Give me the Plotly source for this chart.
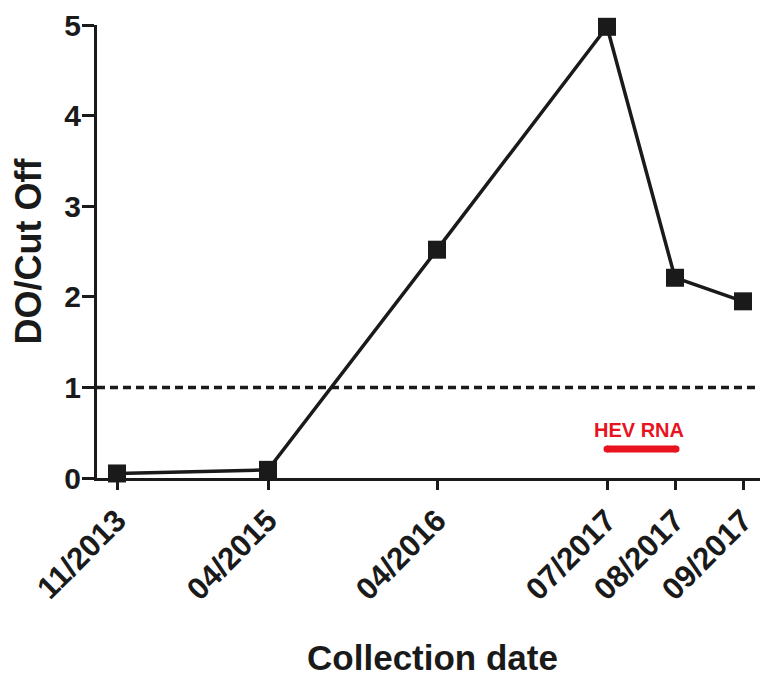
import plotly.graph_objects as go

# Data
dates = ["11/2013", "04/2015", "04/2016", "07/2017", "08/2017", "09/2017"]
x_pos = [0.0, 1.51, 3.20, 4.90, 5.58, 6.26]  # category positions along the axis
do_cutoff = [0.05, 0.09, 2.52, 4.98, 2.21, 1.95]
cutoff_value = 1.0
hev_rna_x = [4.90, 5.59]
hev_rna_y = [0.32, 0.32]
hev_label = "HEV RNA"
hev_label_pos = (5.22, 0.53)

FONT = "Liberation Sans, Arial, Helvetica, sans-serif"
INK = "#1a1a1a"
RED = "#e8131f"

fig = go.Figure()

fig.add_trace(go.Scatter(
    x=x_pos, y=do_cutoff, mode="lines+markers",
    line=dict(color=INK, width=3.5),
    marker=dict(symbol="square", size=18, color=INK),
    cliponaxis=False, showlegend=False, hoverinfo="skip",
))

fig.add_trace(go.Scatter(
    x=hev_rna_x, y=hev_rna_y, mode="lines+markers",
    line=dict(color=RED, width=7),
    marker=dict(symbol="circle", size=7, color=RED),
    showlegend=False, hoverinfo="skip",
))

fig.add_shape(type="line", xref="paper", yref="y", x0=0, x1=1,
              y0=cutoff_value, y1=cutoff_value,
              line=dict(color=INK, width=3.5, dash="8px,5px"))

fig.add_annotation(x=hev_label_pos[0], y=hev_label_pos[1], text=hev_label,
                   showarrow=False,
                   font=dict(family=FONT, size=20, color=RED, weight="bold"))

fig.update_layout(
    width=760, height=669,
    margin=dict(l=89, r=0, t=17, b=199),
    paper_bgcolor="white", plot_bgcolor="white",
    font=dict(family=FONT, color=INK),
)

fig.update_xaxes(
    range=[-0.2, 6.51],
    tickmode="array", tickvals=x_pos, ticktext=dates,
    tickangle=-45,
    tickfont=dict(family=FONT, size=31, color=INK, weight="bold"),
    ticks="outside", ticklen=9, tickwidth=3, tickcolor=INK,
    showline=True, linewidth=3, linecolor=INK,
    showgrid=False, zeroline=False,
    title=dict(text="Collection date", standoff=42,
               font=dict(family=FONT, size=35, color=INK, weight="bold")),
)

fig.update_yaxes(
    range=[0, 5],
    tickmode="array", tickvals=[0, 1, 2, 3, 4, 5],
    tickfont=dict(family=FONT, size=30, color=INK, weight="bold"),
    ticklabelstandoff=-5,
    ticks="outside", ticklen=12, tickwidth=3, tickcolor=INK,
    showline=True, linewidth=3, linecolor=INK,
    showgrid=False, zeroline=False,
    title=dict(text="DO/Cut Off", standoff=12,
               font=dict(family=FONT, size=36, color=INK, weight="bold")),
)

fig.write_html("out.html")
